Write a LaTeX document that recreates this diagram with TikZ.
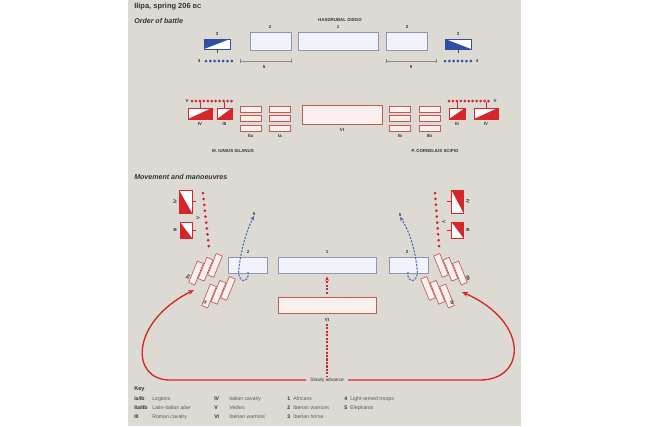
\documentclass[tikz,border=0pt]{standalone}
\usepackage{fontspec}
\setmainfont{Liberation Sans}
\usetikzlibrary{arrows.meta}
\definecolor{panel}{HTML}{DCDAD3}
\definecolor{carthblue}{HTML}{2E4FA3}
\definecolor{boxblue}{HTML}{8E96B2}
\definecolor{bluefill}{HTML}{F2F3FA}
\definecolor{romred}{HTML}{D7262B}
\definecolor{redline}{HTML}{C55A55}
\definecolor{redfill}{HTML}{FBF0EE}
\definecolor{ink}{HTML}{333333}
\definecolor{keyink}{HTML}{5A5A5A}
\definecolor{scalegray}{HTML}{8A8A8A}
\newlength{\upx}\setlength{\upx}{0.75pt}
\newcommand\fsz[1]{\fontsize{#1}{#1}\selectfont}
\begin{document}
\begin{tikzpicture}[x=0.75pt, y=-0.75pt,
    lbl/.style={inner sep=0, font=\fsz{3.3}\bfseries, text=ink},
    head/.style={inner sep=0, anchor=west, font=\fsz{5.3}\bfseries, text=ink},
    keyab/.style={inner sep=0, anchor=west, font=\fsz{3.9}\bfseries, text=ink},
    keytx/.style={inner sep=0, anchor=west, font=\fsz{3.9}, text=keyink},
    cbox/.style={draw=boxblue, fill=bluefill, line width=0.6pt, inner sep=0},
    rbox/.style={draw=redline, fill=redfill, line width=0.5pt, inner sep=0},
    leg/.style={rbox, minimum width=21\upx, minimum height=6\upx},
    mleg/.style={rbox, minimum width=23\upx, minimum height=6.5\upx},
    half/.style n args={4}{draw=#1, fill=white, line width=0.5pt, inner sep=0,
      path picture={\fill[#1] (path picture bounding box.#2)
        -- (path picture bounding box.#3) -- (path picture bounding box.#4) -- cycle;}},
    tick/.style={line width=0.4pt, draw=#1},
    scaleline/.style={scalegray, line width=0.7pt, {Bar[width=3pt]}-{Bar[width=3pt]}},
    reddash/.style={romred, line width=0.8pt, dash pattern=on 1.6pt off 1pt},
    redarc/.style={romred, line width=1pt},
    bluedash/.style={carthblue!85, line width=0.8pt, dash pattern=on 1.6pt off 1pt},
    tip/.style={-{Stealth[length=3.4pt, width=2.9pt]}},
    bigtip/.style={-{Stealth[length=4.6pt, width=3.6pt]}}]
\useasboundingbox (0,0) rectangle (650,426);
\fill[white] (0,0) rectangle (650,426);
\fill[panel] (128,0) rectangle (521,426);

% titles
\node[head, font=\fsz{5.6}\bfseries] (title) at (134,7) {Ilipa, spring 206 {\fsz{4.4}BC}};
\node[head] (battle) at (134,21) {\itshape Order of battle};

% Carthaginian line
\node[lbl] (hasdrubal) at (340,20) {HASDRUBAL GISGO};
\node[cbox, minimum width=80\upx, minimum height=18\upx] (cone) at (338,41) {};
\node[lbl] (conel) at (338,27) {1};
\node[cbox, minimum width=41\upx, minimum height=18\upx] (ctwol) at (270.5,41) {};
\node[lbl] (ctwoll) at (270,27) {2};
\node[cbox, minimum width=41\upx, minimum height=18\upx] (ctwor) at (407,41) {};
\node[lbl] (ctworl) at (407,27) {2};
\node[half={carthblue}{north west}{south west}{north east},
      minimum width=26\upx, minimum height=10\upx] (cthreel) at (217,44) {};
\node[lbl] (cthreell) at (217,34) {3};
\node[half={carthblue}{north west}{south west}{south east},
      minimum width=26\upx, minimum height=10\upx] (cthreer) at (458,44) {};
\node[lbl] (cthreerl) at (458,34) {3};
\draw[tick=carthblue] (cthreel.south) -- ++(0,4);
\draw[tick=carthblue] (cthreer.south) -- ++(0,4);
\foreach \i in {0,...,6}{
  \fill[carthblue] (206+4.3*\i,61) circle (1.5);
  \fill[carthblue] (445+4.3*\i,61) circle (1.5);
}
\node[lbl] (cfourl) at (199,61) {4};
\node[lbl] (cfourr) at (477,61) {4};
\draw[scaleline] (240,61) -- (292,61);
\node[lbl] (cfivel) at (264,67) {5};
\draw[scaleline] (386,61) -- (437,61);
\node[lbl] (cfiver) at (411,67) {5};

% Roman line
\foreach \i in {0,...,10}{
  \fill[romred] (192+3.95*\i,101) circle (1.5);
  \fill[romred] (449+3.95*\i,101) circle (1.5);
}
\node[lbl] (vell) at (187,101) {V};
\node[lbl] (velr) at (495,101) {V};
\node[half={romred}{south west}{south east}{north east},
      minimum width=24\upx, minimum height=11\upx] (rfourl) at (200,113.5) {};
\node[half={romred}{south west}{south east}{north east},
      minimum width=15\upx, minimum height=11\upx] (rthreel) at (224.5,113.5) {};
\node[half={romred}{south west}{south east}{north east},
      minimum width=16\upx, minimum height=11\upx] (rthreer) at (457,113.5) {};
\node[half={romred}{south west}{south east}{north east},
      minimum width=24\upx, minimum height=11\upx] (rfourr) at (486,113.5) {};
\foreach \n in {rfourl,rthreel,rthreer,rfourr}
  \draw[tick=romred] (\n.north) -- ++(0,-5.5);
\node[lbl] (rfourll) at (200,124) {IV};
\node[lbl] (rthreell) at (224.5,124) {III};
\node[lbl] (rthreerl) at (457,124) {III};
\node[lbl] (rfourrl) at (486,124) {IV};
\foreach \y [count=\k] in {109,118.5,128}{
  \node[leg] (iia\k) at (250.5,\y) {};
  \node[leg] (ia\k) at (280,\y) {};
  \node[leg] (ib\k) at (400,\y) {};
  \node[leg] (iib\k) at (429.5,\y) {};
}
\node[lbl] (iial) at (250.5,136) {IIa};
\node[lbl] (ial) at (280,136) {Ia};
\node[lbl] (ibl) at (400,136) {Ib};
\node[lbl] (iibl) at (429.5,136) {IIb};
\node[rbox, minimum width=80\upx, minimum height=19\upx] (rsix) at (342,114.5) {};
\node[lbl] (rsixl) at (342,130) {VI};
\node[lbl] (silanus) at (233,151) {M. IUNIUS SILANUS};
\node[lbl] (scipio) at (435,151) {P. CORNELIUS SCIPIO};

% movement and manoeuvres
\node[head] (moves) at (134,177) {\itshape Movement and manoeuvres};
\node[half={romred}{north west}{south west}{south east},
      minimum width=13\upx, minimum height=23\upx] (mfourl) at (185.5,201.5) {};
\node[half={romred}{north west}{south west}{south east},
      minimum width=12\upx, minimum height=16\upx] (mthreel) at (186,230) {};
\node[half={romred}{north west}{north east}{south east},
      minimum width=12\upx, minimum height=23\upx] (mfourr) at (457.5,201.5) {};
\node[half={romred}{north west}{north east}{south east},
      minimum width=12\upx, minimum height=16\upx] (mthreer) at (457.5,230) {};
\draw[tick=romred] (mfourl.east) -- ++(4,0);
\draw[tick=romred] (mthreel.east) -- ++(4,0);
\draw[tick=romred] (mfourr.west) -- ++(-4,0);
\draw[tick=romred] (mthreer.west) -- ++(-4,0);
\node[lbl, rotate=90] (mfourll) at (175,201.5) {IV};
\node[lbl, rotate=90] (mthreell) at (175,230) {III};
\node[lbl, rotate=-90] (mfourrl) at (468,201.5) {IV};
\node[lbl, rotate=-90] (mthreerl) at (468,230) {III};
\foreach \i in {0,...,9}{
  \fill[romred] (203+0.65*\i,193+5.9*\i) circle (1.5);
  \fill[romred] (435+0.45*\i,193+5.9*\i) circle (1.5);
}
\node[lbl, rotate=90] (mvell) at (198,218) {V};
\node[lbl, rotate=-90] (mvelr) at (444,222) {V};

% legions wheeling out
\foreach \x/\y [count=\k] in {196/273,205.5/269.2,215/265.4}
  \node[mleg, rotate=68] (miia\k) at (\x,\y) {};
\foreach \x/\y [count=\k] in {209/296,218.5/292.2,228/288.4}
  \node[mleg, rotate=68] (mia\k) at (\x,\y) {};
\foreach \x/\y [count=\k] in {460/273,450.5/269.2,441/265.4}
  \node[mleg, rotate=-68] (miib\k) at (\x,\y) {};
\foreach \x/\y [count=\k] in {447/296,437.5/292.2,428/288.4}
  \node[mleg, rotate=-68] (mib\k) at (\x,\y) {};
\node[lbl, rotate=68] (miial) at (188,277) {IIa};
\node[lbl, rotate=68] (mial) at (205,302) {Ia};
\node[lbl, rotate=-68] (miibl) at (468,278) {IIb};
\node[lbl, rotate=-68] (mibl) at (452,303) {Ib};

% centre
\node[cbox, minimum width=39\upx, minimum height=16\upx] (mtwol) at (248,265) {};
\node[lbl] (mtwoll) at (248,252) {2};
\node[cbox, minimum width=98\upx, minimum height=16\upx] (mone) at (327,265) {};
\node[lbl] (monel) at (327,252) {1};
\node[cbox, minimum width=39\upx, minimum height=16\upx] (mtwor) at (408.5,265) {};
\node[lbl] (mtworl) at (407,252) {2};
\node[rbox, minimum width=98\upx, minimum height=16\upx] (msix) at (327,305) {};
\node[lbl] (msixl) at (327,320) {VI};
\node[inner xsep=4\upx, inner ysep=1\upx, font=\fsz{3.6}, text=ink] (adv) at (327,380) {Slowly advance};
\draw[reddash, tip, shorten <=3\upx, shorten >=3\upx] (msix.north) -- (mone.south);
\draw[reddash, shorten <=2\upx] (msixl.south) -- (adv.north);
\coordinate (lefttip) at (194,290);
\coordinate (righttip) at (462,292);
\draw[redarc, bigtip] (adv.west) -- (170,380) .. controls (130,380) and (130,322) .. (lefttip);
\draw[redarc, bigtip] (adv.east) -- (480,380) .. controls (526,380) and (530,322) .. (righttip);

% elephants retiring
\node[lbl] (elel) at (254,214) {5};
\node[lbl] (eler) at (400,215) {5};
\coordinate (hookl) at (248,272);
\coordinate (hookr) at (408,272);
\draw[bluedash, tip] (hookl) .. controls (250,284) and (236,284) .. (239,268)
  .. controls (241,250) and (246,232) .. (elel.south);
\draw[bluedash, tip] (hookr) .. controls (406,284) and (420,284) .. (417,268)
  .. controls (415,250) and (410,232) .. (eler.south);

% key
\node[head, font=\fsz{4.2}\bfseries] (key) at (134,389) {Key};
\foreach \ab/\tx [count=\k] in {{Ia/Ib}/Legions, {IIa/IIb}/{Latin-Italian \textit{alae}}, III/Roman cavalry}{
  \node[keyab] (keya\k) at (134,390+9*\k) {\ab};
  \node[keytx] (keyat\k) at (152,390+9*\k) {\tx};
}
\foreach \ab/\tx [count=\k] in {IV/Italian cavalry, V/\textit{Velites}, VI/Iberian warriors}{
  \node[keyab] (keyb\k) at (214,390+9*\k) {\ab};
  \node[keytx] (keybt\k) at (229,390+9*\k) {\tx};
}
\foreach \ab/\tx [count=\k] in {1/Africans, 2/Iberian warriors, 3/Iberian horse}{
  \node[keyab] (keyc\k) at (287,390+9*\k) {\ab};
  \node[keytx] (keyct\k) at (293,390+9*\k) {\tx};
}
\foreach \ab/\tx [count=\k] in {4/Light-armed troops, 5/Elephants}{
  \node[keyab] (keyd\k) at (344,390+9*\k) {\ab};
  \node[keytx] (keydt\k) at (350,390+9*\k) {\tx};
}
\end{tikzpicture}
\end{document}
